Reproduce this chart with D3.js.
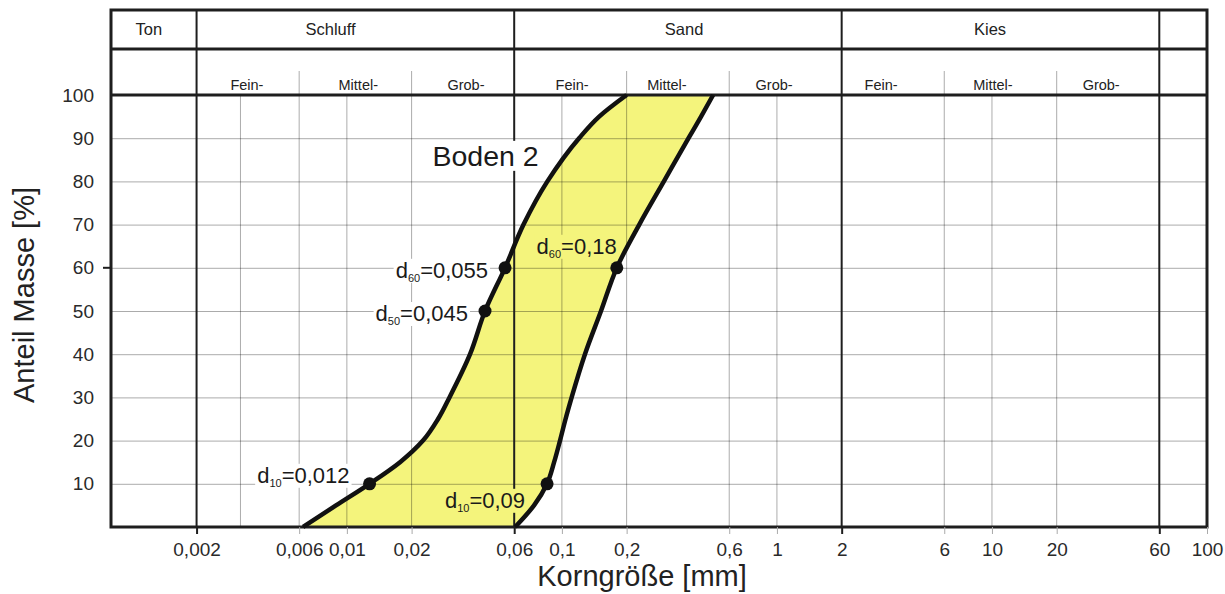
<!DOCTYPE html>
<html><head><meta charset="utf-8">
<script src="https://cdn.jsdelivr.net/npm/d3@7"></script>
<style>
body{margin:0;background:#fff}
svg{display:block;font-family:"Liberation Sans",Arial,Helvetica,sans-serif}
</style>
</head><body>
<svg id="chart" width="1225" height="594"></svg>
<script>
// ---- data ----
const percentLevels   = [0, 5, 10, 15, 20, 25, 30, 40, 50, 60, 70, 80, 90, 95, 100];
const fineBoundary    = [0.00626, 0.0089, 0.01275, 0.01767, 0.0226, 0.02655, 0.0300, 0.0374, 0.0439, 0.0544, 0.0663, 0.0856, 0.1202, 0.149, 0.200];
const coarseBoundary  = [0.0606, 0.0742, 0.0853, 0.0920, 0.098, 0.104, 0.111, 0.128, 0.152, 0.180, 0.229, 0.298, 0.388, 0.4437, 0.505];

const markerSub  = ["10", "50", "60", "10", "60"];
const markerText = ["=0,012", "=0,045", "=0,055", "=0,09", "=0,18"];
const markerSize = [0.01275, 0.0439, 0.0544, 0.0853, 0.180];
const markerPct  = [10, 50, 60, 10, 60];

const xTickValues = [0.002, 0.006, 0.01, 0.02, 0.06, 0.1, 0.2, 0.6, 1, 2, 6, 10, 20, 60, 100];
const xTickLabels = ["0,002", "0,006", "0,01", "0,02", "0,06", "0,1", "0,2", "0,6", "1", "2", "6", "10", "20", "60", "100"];
const yTickValues = [10, 20, 30, 40, 50, 60, 70, 80, 90, 100];

const majorBounds = [0.002, 0.06, 2, 60];
const subBounds   = [0.006, 0.02, 0.2, 0.6, 6, 20];
const extraGrid   = [0.0032, 0.01, 0.1, 1, 10];

const groupNames   = ["Ton", "Schluff", "Sand", "Kies"];
const groupLabelAt = [0.0012, 0.0084, 0.37, 9.8];
const subNames     = ["Fein-", "Mittel-", "Grob-", "Fein-", "Mittel-", "Grob-", "Fein-", "Mittel-", "Grob-"];
const subLabelAt   = [0.00343, 0.0113, 0.0358, 0.1115, 0.308, 0.97, 3.05, 10.1, 32.2];

const xTitle = "Korngröße [mm]";
const yTitle = "Anteil Masse [%]";
const soilName = "Boden 2";

// ---- layout ----
const L = 111, R = 1207, T = 95, B = 527, headTop = 10, headMid = 49, subTop = 71;
const svg = d3.select("#chart");
const x = d3.scaleLog().domain([0.0008, 100]).range([L, R]);
const y = d3.scaleLinear().domain([0, 100]).range([B, T]);
const yellow = "#f4f47c";
const ink = "#1e1e1e";

// band fill
const curve = d3.curveMonotoneY;
const band = d3.area().curve(curve)
  .y((d, i) => y(percentLevels[i]))
  .x0((d, i) => x(fineBoundary[i]))
  .x1((d, i) => x(coarseBoundary[i]));
svg.append("path").datum(percentLevels).attr("d", band).attr("fill", yellow);

// grid
const grid = svg.append("g").attr("stroke", "#000").attr("stroke-opacity", 0.33).attr("stroke-width", 1);
grid.selectAll("line.h").data(yTickValues.filter(v => v < 100)).join("line")
  .attr("x1", L).attr("x2", R).attr("y1", d => y(d) + 0.5).attr("y2", d => y(d) + 0.5);
grid.selectAll("line.e").data(extraGrid).join("line").attr("class", "e")
  .attr("x1", d => x(d)).attr("x2", d => x(d)).attr("y1", T).attr("y2", B);
grid.selectAll("line.s").data(subBounds).join("line").attr("class", "s")
  .attr("x1", d => x(d)).attr("x2", d => x(d)).attr("y1", subTop).attr("y2", B);

// major verticals
svg.append("g").selectAll("line").data(majorBounds).join("line")
  .attr("x1", d => x(d)).attr("x2", d => x(d)).attr("y1", headTop).attr("y2", B)
  .attr("stroke", ink).attr("stroke-width", 2);

// header / frame lines
svg.append("line").attr("x1", L).attr("x2", R).attr("y1", headMid).attr("y2", headMid).attr("stroke", ink).attr("stroke-width", 3);
svg.append("line").attr("x1", L).attr("x2", R).attr("y1", T).attr("y2", T).attr("stroke", ink).attr("stroke-width", 3);
svg.append("rect").attr("x", L).attr("y", headTop).attr("width", R - L).attr("height", B - headTop)
  .attr("fill", "none").attr("stroke", ink).attr("stroke-width", 3);

// header text
svg.append("g").selectAll("text").data(groupNames).join("text")
  .attr("x", (d, i) => x(groupLabelAt[i])).attr("y", 35)
  .attr("text-anchor", "middle").attr("font-size", 16.5).attr("fill", "#222").text(d => d);
svg.append("g").selectAll("text").data(subNames).join("text")
  .attr("x", (d, i) => x(subLabelAt[i])).attr("y", 90)
  .attr("text-anchor", "middle").attr("font-size", 14.5).attr("fill", "#222").text(d => d);

// x axis ticks + labels
const xAxis = d3.axisBottom(x).tickValues(xTickValues).tickFormat((d, i) => xTickLabels[i]).tickSize(7).tickPadding(9);
const gx = svg.append("g").attr("transform", `translate(0,${B})`).call(xAxis);
gx.select(".domain").remove();
gx.selectAll(".tick line").attr("stroke", d => majorBounds.includes(d) ? ink : "#aaa").attr("stroke-width", d => majorBounds.includes(d) ? 2 : 1);
gx.selectAll(".tick text").attr("font-size", 19).attr("fill", "#2a2a2a").attr("font-family", null);

// y axis labels
const yAxis = d3.axisLeft(y).tickValues(yTickValues).tickSize(0).tickPadding(17);
const gy = svg.append("g").attr("transform", `translate(${L},0)`).call(yAxis);
gy.select(".domain").remove();
gy.selectAll(".tick text").attr("font-size", 19).attr("fill", "#2a2a2a").attr("font-family", null);
// small stub at 60 on the left edge
svg.append("line").attr("x1", L - 8).attr("x2", L).attr("y1", y(60)).attr("y2", y(60)).attr("stroke", ink).attr("stroke-width", 2);

// titles
svg.append("text").attr("x", 642).attr("y", 586).attr("text-anchor", "middle")
  .attr("font-size", 29).attr("fill", "#222").text(xTitle);
svg.append("text").attr("transform", "translate(34,295) rotate(-90)").attr("text-anchor", "middle")
  .attr("font-size", 29).attr("fill", "#222").text(yTitle);

// helper: text with background
function labelWithBg(g, bg) {
  const bb = g.select("text").node().getBBox();
  g.insert("rect", "text").attr("x", bb.x - 2).attr("y", bb.y + 1).attr("width", bb.width + 4).attr("height", bb.height - 2).attr("fill", bg);
}

// soil name
const sg = svg.append("g");
sg.append("text").attr("x", x(0.025)).attr("y", y(83.6)).attr("font-size", 28.5).attr("fill", "#1a1a1a").text(soilName);
labelWithBg(sg, "#fff");

// marker labels
const place = [
  {dx: -20, dy: -1, bg: "#fff"},
  {dx: -17, dy: 10, bg: "#fff"},
  {dx: -17, dy: 10, bg: "#fff"},
  {dx: -22, dy: 24, bg: yellow},
  {dx: 0, dy: -14, bg: yellow}
];
markerSize.forEach((s, i) => {
  const g = svg.append("g");
  const t = g.append("text").attr("x", x(s) + place[i].dx).attr("y", y(markerPct[i]) + place[i].dy)
    .attr("text-anchor", "end").attr("font-size", 22).attr("fill", "#1a1a1a");
  t.append("tspan").text("d");
  t.append("tspan").attr("font-size", 11).attr("dy", 4).text(markerSub[i]);
  t.append("tspan").attr("dy", -4).text(markerText[i]);
  labelWithBg(g, place[i].bg);
});

// boundary curves
const lineFine = d3.line().curve(curve).x((d, i) => x(fineBoundary[i])).y((d, i) => y(percentLevels[i]));
const lineCoarse = d3.line().curve(curve).x((d, i) => x(coarseBoundary[i])).y((d, i) => y(percentLevels[i]));
svg.append("path").datum(percentLevels).attr("d", lineFine).attr("fill", "none").attr("stroke", "#111").attr("stroke-width", 4.5);
svg.append("path").datum(percentLevels).attr("d", lineCoarse).attr("fill", "none").attr("stroke", "#111").attr("stroke-width", 4.5);

// markers
svg.append("g").selectAll("circle").data(markerSize).join("circle")
  .attr("cx", d => x(d)).attr("cy", (d, i) => y(markerPct[i])).attr("r", 6.5).attr("fill", "#111");
</script>
</body></html>
